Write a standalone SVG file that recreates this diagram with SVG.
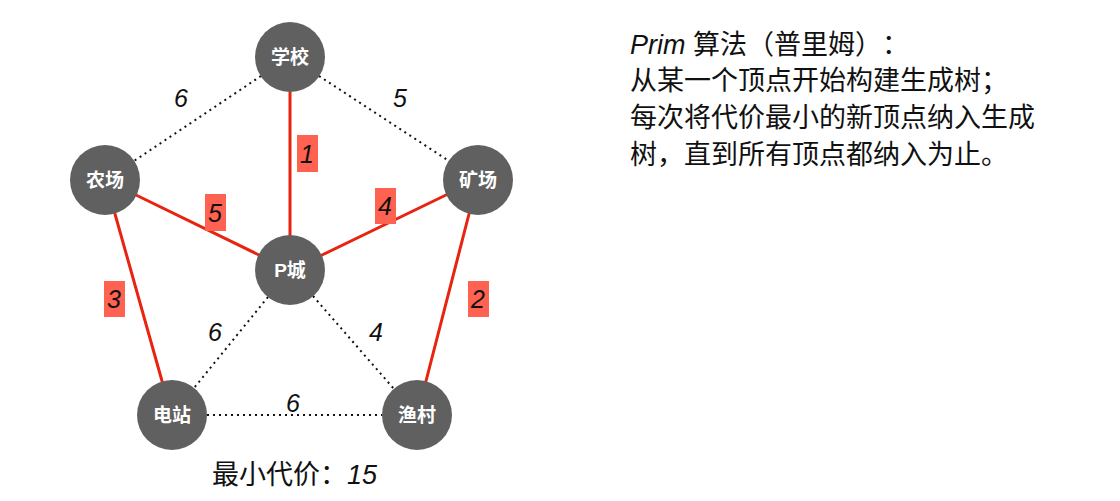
<svg xmlns="http://www.w3.org/2000/svg" width="1120" height="501" viewBox="0 0 1120 501">
<style>
svg{text-spacing-trim:space-all}
.node circle{fill:#606060}
.node text{fill:#fff;font-family:"Liberation Sans","Noto Sans CJK SC",sans-serif;font-weight:bold;font-size:19px;text-anchor:middle;dominant-baseline:central}
.mst{stroke:#e8230f;stroke-width:3;fill:none;stroke-linecap:round}
.dot{stroke:#111;stroke-width:2;stroke-dasharray:2 4;fill:none}
.w{font-family:"Liberation Sans",sans-serif;font-style:italic;font-size:25px;fill:#111;text-anchor:middle;dominant-baseline:central}
.box{fill:#ff6250}
.txt{font-family:"Liberation Sans","Noto Sans CJK SC",sans-serif;font-size:27px;fill:#111;text-spacing-trim:space-all}
</style>
<rect width="1120" height="501" fill="#fff"/>
<g id="connectors">
<line class="dot" x1="261" y1="76" x2="134" y2="161"/>
<line class="dot" x1="319" y1="76" x2="449" y2="161"/>
<line class="dot" x1="268" y1="297" x2="194" y2="388"/>
<line class="dot" x1="313" y1="296" x2="394" y2="389"/>
<line class="dot" x1="207" y1="415" x2="382" y2="415"/>
<line class="mst" x1="290" y1="92" x2="290" y2="235"/>
<line class="mst" x1="136" y1="195" x2="259" y2="255"/>
<line class="mst" x1="322" y1="255" x2="446" y2="195"/>
<line class="mst" x1="115" y1="214" x2="162" y2="381"/>
<line class="mst" x1="469" y1="214" x2="426" y2="381"/>
<text class="w" x="181" y="98">6</text>
<text class="w" x="400" y="98">5</text>
<text class="w" x="215" y="332">6</text>
<text class="w" x="376" y="332">4</text>
<text class="w" x="293" y="403">6</text>
<rect class="box" x="297" y="135" width="21" height="37"/>
<text class="w" x="307" y="154">1</text>
<rect class="box" x="205" y="194" width="21" height="37"/>
<text class="w" x="215" y="213">5</text>
<rect class="box" x="375" y="188" width="21" height="36"/>
<text class="w" x="385" y="206">4</text>
<rect class="box" x="104" y="281" width="21" height="36"/>
<text class="w" x="114" y="299">3</text>
<rect class="box" x="468" y="281" width="21" height="36"/>
<text class="w" x="478" y="299">2</text>
</g>
<g id="n-school" class="node"><circle cx="290" cy="57" r="35"/><text x="290" y="57">学校</text></g>
<g id="n-farm" class="node"><circle cx="105" cy="180" r="35"/><text x="105" y="180">农场</text></g>
<g id="n-mine" class="node"><circle cx="478" cy="180" r="35"/><text x="478" y="180">矿场</text></g>
<g id="n-pcity" class="node"><circle cx="290" cy="270" r="35"/><text x="290" y="270">P城</text></g>
<g id="n-power" class="node"><circle cx="172" cy="415" r="35"/><text x="172" y="415">电站</text></g>
<g id="n-fish" class="node"><circle cx="417" cy="415" r="35"/><text x="417" y="415">渔村</text></g>
<text class="txt" x="212" y="484" font-size="24">最小代价：<tspan font-style="italic">15</tspan></text>
<g id="desc" class="txt">
<text x="630" y="54"><tspan font-style="italic">Prim</tspan> 算法（普里姆）：</text>
<text x="630" y="90">从某一个顶点开始构建生成树；</text>
<text x="630" y="127">每次将代价最小的新顶点纳入生成</text>
<text x="630" y="164">树，直到所有顶点都纳入为止。</text>
</g>
</svg>
